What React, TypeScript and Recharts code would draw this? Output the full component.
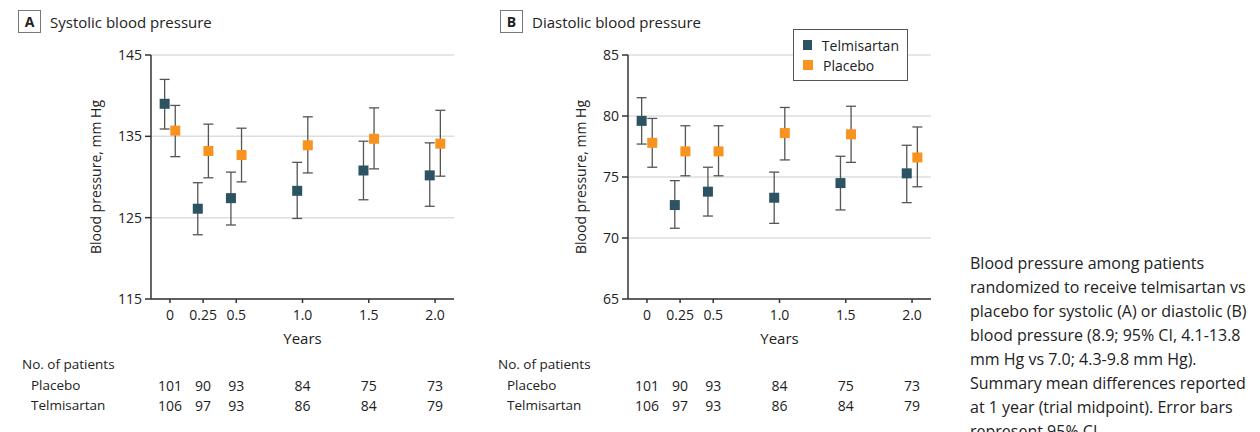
import React from "react";
import {
  ScatterChart,
  Scatter,
  XAxis,
  YAxis,
  CartesianGrid,
  ErrorBar,
  Legend,
} from "recharts";

// follow-up times (years) and patient counts
const years = [0, 0.25, 0.5, 1.0, 1.5, 2.0];
const yearLabels = ["0", "0.25", "0.5", "1.0", "1.5", "2.0"];
const placeboN = [101, 90, 93, 84, 75, 73];
const telmisartanN = [106, 97, 93, 86, 84, 79];
const seriesNames = ["Telmisartan", "Placebo"];

// systolic, mm Hg (mean and 95% CI)
const sysTelMean = [139.0, 126.1, 127.4, 128.3, 130.8, 130.2];
const sysTelLow = [135.9, 122.9, 124.1, 124.9, 127.2, 126.4];
const sysTelHigh = [142.0, 129.3, 130.6, 131.8, 134.4, 134.2];
const sysPlaMean = [135.7, 133.2, 132.7, 133.9, 134.7, 134.1];
const sysPlaLow = [132.5, 129.9, 129.4, 130.5, 131.0, 130.1];
const sysPlaHigh = [138.8, 136.5, 136.0, 137.4, 138.5, 138.2];

// diastolic, mm Hg (mean and 95% CI)
const diaTelMean = [79.6, 72.7, 73.8, 73.3, 74.5, 75.3];
const diaTelLow = [77.7, 70.8, 71.8, 71.2, 72.3, 72.9];
const diaTelHigh = [81.5, 74.7, 75.8, 75.4, 76.7, 77.6];
const diaPlaMean = [77.8, 77.1, 77.1, 78.6, 78.5, 76.6];
const diaPlaLow = [75.8, 75.1, 75.1, 76.4, 76.2, 74.2];
const diaPlaHigh = [79.8, 79.2, 79.2, 80.7, 80.8, 79.1];

const sysTicks = [115, 125, 135, 145];
const diaTicks = [65, 70, 75, 80, 85];

const TEL = "#2c5362";
const PLA = "#f7931e";
const DODGE = 0.04;

const toPoints = (mean: number[], low: number[], high: number[], shift: number) =>
  years.map((yr, i) => ({
    x: yr + shift,
    y: mean[i],
    err: [mean[i] - low[i], high[i] - mean[i]],
  }));

const square = (color: string) => (p: any) =>
  <rect x={p.cx - 5} y={p.cy - 5} width={10} height={10} fill={color} />;

const YearTick = (props: any) => {
  const { x, y, payload } = props;
  const i = years.indexOf(payload.value);
  return (
    <g fill="#222" fontSize={14}>
      <text x={x} y={y} dy="0.71em" textAnchor="middle">{yearLabels[i]}</text>
      <text x={x} y={385} textAnchor="middle" dominantBaseline="central">{placeboN[i]}</text>
      <text x={x} y={405} textAnchor="middle" dominantBaseline="central">{telmisartanN[i]}</text>
    </g>
  );
};

const LegendBox = (props: any) => {
  const items = [...(props.payload || [])].sort(
    (a: any, b: any) => seriesNames.indexOf(a.value) - seriesNames.indexOf(b.value)
  );
  return (
    <div
      style={{
        border: "1px solid #555",
        background: "#fff",
        padding: "5px 8px 5px 9px",
        width: 115,
        boxSizing: "border-box",
        fontSize: 14,
        color: "#222",
      }}
    >
      {items.map((e: any) => (
        <div key={e.value} style={{ display: "flex", alignItems: "center", height: 20 }}>
          <span style={{ width: 10, height: 10, background: e.color, marginRight: 10 }} />
          <span>{e.value}</span>
        </div>
      ))}
    </div>
  );
};

interface PanelProps {
  left: number;
  width: number;
  marginLeft: number;
  marginRight: number;
  yWidth: number;
  domain: [number, number];
  ticks: number[];
  tel: any[];
  pla: any[];
  legend?: boolean;
}

const Panel = ({ left, width, marginLeft, marginRight, yWidth, domain, ticks, tel, pla, legend }: PanelProps) => (
  <div style={{ position: "absolute", left, top: 0 }}>
    <ScatterChart
      width={width}
      height={432}
      margin={{ top: 55, right: marginRight, bottom: 103, left: marginLeft }}
    >
      <CartesianGrid vertical={false} stroke="#dedede" strokeWidth={1.5} />
      <XAxis
        type="number"
        dataKey="x"
        domain={[-0.143, 2.143]}
        allowDataOverflow
        ticks={years}
        interval={0}
        height={30}
        tickSize={4}
        tickMargin={7}
        stroke="#333"
        strokeWidth={1.5}
        tick={YearTick}
        label={{ value: "Years", position: "bottom", offset: 4, fill: "#222", fontSize: 15 }}
      />
      <YAxis
        type="number"
        dataKey="y"
        domain={domain}
        ticks={ticks}
        width={yWidth}
        tickSize={6}
        tickMargin={3}
        stroke="#333"
        strokeWidth={1.5}
        tick={{ fill: "#222", fontSize: 14 }}
        label={{
          value: "Blood pressure, mm Hg",
          angle: -90,
          position: "insideLeft",
          offset: 5,
          style: { textAnchor: "middle", fill: "#222", fontSize: 14 },
        }}
      />
      {legend && (
        <Legend
          layout="vertical"
          align="center"
          verticalAlign="middle"
          content={LegendBox}
          wrapperStyle={{ left: 793 - left, top: 29, width: 115 }}
        />
      )}
      <Scatter name="Telmisartan" data={tel} fill={TEL} shape={square(TEL)} isAnimationActive={false}>
        <ErrorBar dataKey="err" direction="y" width={5} stroke="#555" strokeWidth={1.3} />
      </Scatter>
      <Scatter name="Placebo" data={pla} fill={PLA} shape={square(PLA)} isAnimationActive={false}>
        <ErrorBar dataKey="err" direction="y" width={5} stroke="#555" strokeWidth={1.3} />
      </Scatter>
    </ScatterChart>
  </div>
);

const abs = (left: number, top: number, extra: React.CSSProperties = {}): React.CSSProperties => ({
  position: "absolute",
  left,
  top,
  whiteSpace: "nowrap",
  ...extra,
});

const TitleBox = ({ left, letter, text }: { left: number; letter: string; text: string }) => (
  <>
    <div
      style={abs(left, 10, {
        width: 23,
        height: 23,
        border: "1px solid #777",
        boxSizing: "border-box",
        textAlign: "center",
        fontWeight: 700,
        fontSize: 14,
        lineHeight: "21px",
      })}
    >
      {letter}
    </div>
    <div style={abs(left + 32, 11, { fontSize: 15, lineHeight: "22px" })}>{text}</div>
  </>
);

const RowLabels = ({ left }: { left: number }) => (
  <>
    <div style={abs(left, 354, { fontSize: 13.5, lineHeight: "20px" })}>No. of patients</div>
    <div style={abs(left + 9, 375, { fontSize: 13.5, lineHeight: "20px" })}>Placebo</div>
    <div style={abs(left + 9, 395, { fontSize: 13.5, lineHeight: "20px" })}>Telmisartan</div>
  </>
);

const captionLines = [
  "Blood pressure among patients",
  "randomized to receive telmisartan vs",
  "placebo for systolic (A) or diastolic (B)",
  "blood pressure (8.9; 95% CI, 4.1-13.8",
  "mm Hg vs 7.0; 4.3-9.8 mm Hg).",
  "Summary mean differences reported",
  "at 1 year (trial midpoint). Error bars",
  "represent 95% CI.",
];

export default function App() {
  return (
    <div
      style={{
        position: "absolute",
        left: 0,
        top: 0,
        width: 1260,
        height: 432,
        overflow: "hidden",
        background: "#fff",
        fontFamily: "'Open Sans', 'Noto Sans', sans-serif",
        color: "#222",
      }}
    >
      <Panel
        left={0}
        width={480}
        marginLeft={91}
        marginRight={26}
        yWidth={60}
        domain={[115, 145]}
        ticks={sysTicks}
        tel={toPoints(sysTelMean, sysTelLow, sysTelHigh, -DODGE)}
        pla={toPoints(sysPlaMean, sysPlaLow, sysPlaHigh, DODGE)}
      />
      <Panel
        left={480}
        width={470}
        marginLeft={96}
        marginRight={19}
        yWidth={52}
        domain={[65, 85]}
        ticks={diaTicks}
        tel={toPoints(diaTelMean, diaTelLow, diaTelHigh, -DODGE)}
        pla={toPoints(diaPlaMean, diaPlaLow, diaPlaHigh, DODGE)}
        legend
      />
      <TitleBox left={18} letter="A" text="Systolic blood pressure" />
      <TitleBox left={500} letter="B" text="Diastolic blood pressure" />
      <RowLabels left={22} />
      <RowLabels left={498} />
      <div style={abs(970, 251, { fontSize: 16, lineHeight: "24px" })}>
        {captionLines.map((l) => (
          <div key={l}>{l}</div>
        ))}
      </div>
    </div>
  );
}
